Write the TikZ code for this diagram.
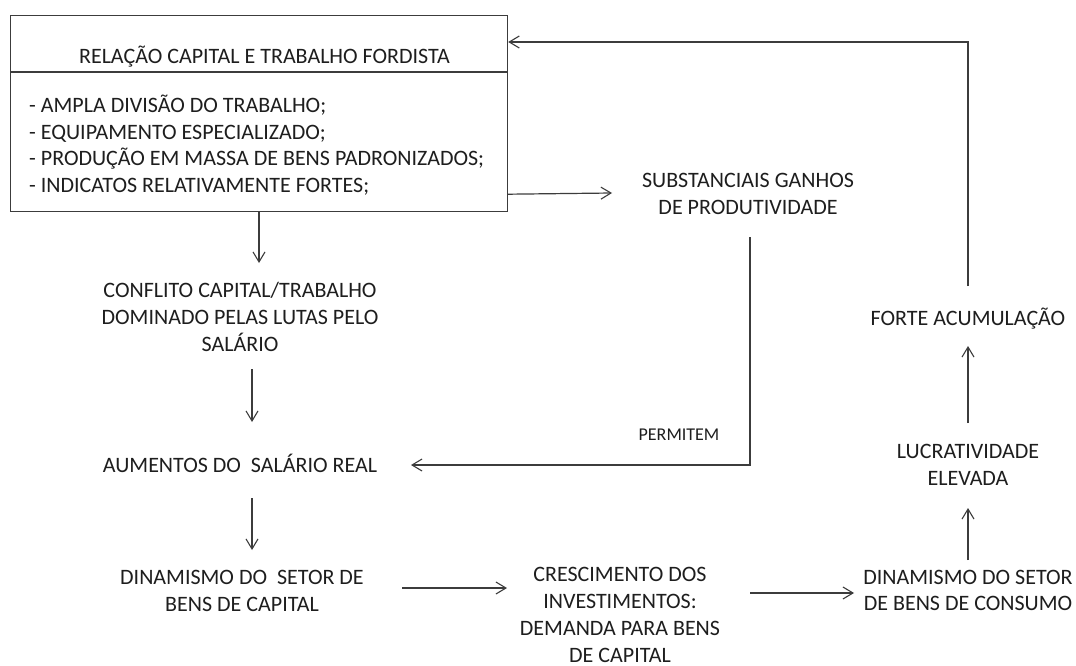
\documentclass[tikz,border=0pt]{standalone}
\usepackage{fontspec}
\setmainfont{Carlito}
\usetikzlibrary{arrows.meta,calc}
\definecolor{txt}{HTML}{1E1E1E}
\definecolor{ln}{HTML}{3C3C3C}
\tikzset{
  lbl/.style={font=\fontsize{22pt}{26.7pt}\selectfont, text=txt, inner sep=0pt, align=center, anchor=base},
  small/.style={font=\fontsize{18pt}{22pt}\selectfont, text=txt, inner sep=0pt, anchor=base},
  arr/.style={draw=ln, line width=1.2pt, -{Straight Barb[length=10pt,width=12pt,line width=1.1pt]}},
  plain/.style={draw=ln, line width=1.2pt}
}
\begin{document}
\begin{tikzpicture}[x=1pt,y=-1pt]
\useasboundingbox[fill=white] (0,0) rectangle (1076,666);
% main box (multi-line nodes are placed by the baseline of their last line)
\node[plain, minimum width=497pt, minimum height=196pt, anchor=north west, inner sep=0pt] (fbox) at (10,15) {};
\draw[plain] ($(fbox.north west)+(0,57)$) -- ($(fbox.north east)+(0,57)$);
\node[lbl] (ttl) at (264.5,64) {RELAÇÃO CAPITAL E TRABALHO FORDISTA};
\node[lbl, align=left, anchor=base west] (lst) at (29,192.5) {- AMPLA DIVISÃO DO TRABALHO;\\- EQUIPAMENTO ESPECIALIZADO;\\- PRODUÇÃO EM MASSA DE BENS PADRONIZADOS;\\- INDICATOS RELATIVAMENTE FORTES;};
% text nodes
\node[lbl] (spg) at (748,214) {SUBSTANCIAIS GANHOS\\DE PRODUTIVIDADE};
\node[lbl] (conf) at (240,351) {CONFLITO CAPITAL/TRABALHO\\DOMINADO PELAS LUTAS PELO\\SALÁRIO};
\node[lbl] (aum) at (240,472) {AUMENTOS DO~~SALÁRIO REAL};
\node[lbl] (dinc) at (242,611) {DINAMISMO DO~~SETOR DE\\BENS DE CAPITAL};
\node[lbl] (cresc) at (620,662) {CRESCIMENTO DOS\\INVESTIMENTOS:\\DEMANDA PARA BENS\\DE CAPITAL};
\node[lbl] (dcons) at (968,610.7) {DINAMISMO DO SETOR\\DE BENS DE CONSUMO};
\node[lbl] (lucr) at (968,485) {LUCRATIVIDADE\\ELEVADA};
\node[lbl] (forte) at (968,325) {FORTE ACUMULAÇÃO};
\node[small] (perm) at (679,440.5) {PERMITEM};
% connectors
\draw[arr] ($(fbox.south west)+(249,0)$) -- ($(conf.base)+(19,-88)$);
\draw[arr] ($(conf.base)+(12,18)$) -- ($(aum.base)+(12,-50)$);
\draw[arr] ($(aum.base)+(12,26)$) -- ($(dinc.base)+(10,-61)$);
\draw[arr] ($(dinc.base)+(160,-23)$) -- ($(cresc.base)+(-113,-74)$);
\draw[arr] ($(cresc.base)+(130,-69)$) -- ($(dcons.base)+(-114,-17.7)$);
\draw[arr] ($(dcons.base)+(0,-50.7)$) -- ($(lucr.base)+(0,23)$);
\draw[arr] ($(lucr.base)+(0,-62)$) -- ($(forte.base)+(0,21)$);
\draw[arr] ($(forte.base)+(0,-39)$) |- ($(fbox.north east)+(0,27)$);
\draw[arr] ($(fbox.south east)+(0,-18)$) -- ($(spg.base)+(-136,-21)$);
\draw[arr] ($(spg.base)+(2,23)$) |- ($(aum.base)+(171,-7)$);
\end{tikzpicture}
\end{document}
